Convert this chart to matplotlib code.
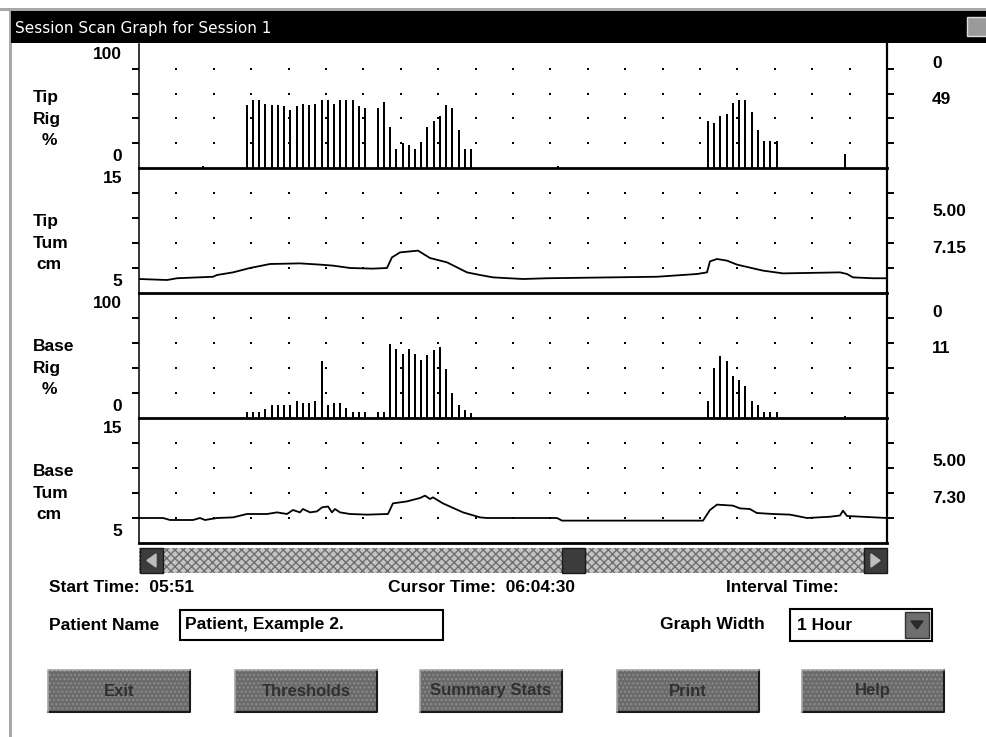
import numpy as np
import matplotlib
matplotlib.use("Agg")
import matplotlib.pyplot as plt
from matplotlib.patches import Rectangle, Polygon
from matplotlib import font_manager

# ---------------- data ----------------
WINDOW_TITLE = "Session Scan Graph for Session 1"
GRAPH_MINUTES = 60
GRID_STEP_MIN = 3

# rigidity scans: every 30 s, epoch index relative to first scan
SCAN_EPOCH_MIN = 0.5
FIRST_SCAN_MIN = 8.64

tip_rig_epochs = [-7] + list(range(0, 20)) + list(range(21, 37)) + [50] + list(range(74, 86)) + [96]
tip_rig_values = ([2]
                  + [51, 55, 55, 52, 51, 51, 49.7, 47, 49.7, 52, 51, 52, 55, 55, 52, 55, 55, 55, 49.7, 48.5]
                  + [48.5, 53.5, 33, 15, 20, 18.5, 15, 21, 33, 38, 41.6, 51, 48.4, 30.7, 15, 15]
                  + [2]
                  + [38, 36, 42, 43.5, 52.4, 55, 55, 45, 30.7, 21.8, 21.8, 21.8]
                  + [11])

base_rig_epochs = list(range(0, 20)) + list(range(21, 37)) + list(range(74, 86)) + [96]
base_rig_values = ([5, 5, 5, 7.3, 10.5, 10.5, 10.5, 10.5, 14, 11.8, 11.8, 14, 45.4, 10.5, 11.8, 11.8, 7.8, 5, 5, 5]
                   + [5, 5, 59.4, 55.4, 51.6, 55.4, 51.6, 46.8, 50.3, 54.3, 56.7, 39.2, 19.9, 10.5, 6.5, 3.8]
                   + [14, 40, 50, 45.4, 33.9, 30.6, 25.3, 13.7, 10.5, 5, 5, 5]
                   + [2])

tip_tum_min = [0.0, 2.25, 3.05, 5.94, 6.26, 7.54, 8.90, 10.51, 12.91, 14.52, 15.56, 16.93, 18.77,
               19.89, 20.29, 20.94, 22.38, 23.34, 24.71, 26.31, 27.35, 28.40, 30.80, 32.73, 41.55,
               44.76, 45.56, 45.80, 46.36, 47.16, 47.97, 50.05, 51.66, 56.23, 56.79, 57.27, 58.87, 60.0]
tip_tum_cm = [6.12, 6.04, 6.18, 6.3, 6.44, 6.65, 7.0, 7.32, 7.37, 7.27, 7.19, 7.0, 6.95,
              7.0, 7.85, 8.25, 8.39, 7.8, 7.45, 6.65, 6.44, 6.25, 6.12, 6.18, 6.3,
              6.52, 6.65, 7.53, 7.72, 7.59, 7.27, 6.79, 6.57, 6.65, 6.52, 6.25, 6.18, 6.18]

base_tum_min = [0.0, 1.93, 2.49, 4.33, 4.89, 5.29, 6.26, 7.54, 8.66, 10.27, 11.07, 11.87, 12.35,
                12.91, 13.15, 13.72, 14.28, 14.68, 15.16, 15.48, 15.72, 16.12, 16.93, 18.29, 19.97,
                20.37, 21.50, 22.54, 22.94, 23.34, 23.58, 24.38, 25.99, 27.35, 27.91, 33.53, 33.93,
                45.24, 45.80, 46.36, 47.64, 48.20, 49.00, 49.56, 50.86, 52.22, 53.58, 55.42, 56.23,
                56.47, 56.79, 60.0]
base_tum_cm = [7.0, 7.0, 6.84, 6.84, 7.0, 6.84, 7.0, 7.05, 7.32, 7.32, 7.45, 7.32, 7.64,
               7.45, 7.72, 7.45, 7.53, 7.85, 7.92, 7.45, 7.72, 7.45, 7.32, 7.27, 7.32,
               8.17, 8.33, 8.6, 8.79, 8.52, 8.65, 8.17, 7.45, 7.05, 7.0, 7.0, 6.79,
               6.79, 7.64, 8.07, 7.99, 7.77, 7.72, 7.4, 7.32, 7.27, 7.0, 7.1, 7.2,
               7.59, 7.16, 7.0]

panel_names = [["Tip", "Rig", "%"], ["Tip", "Tum", "cm"], ["Base", "Rig", "%"], ["Base", "Tum", "cm"]]
panel_ranges = [(0, 100), (5, 15), (0, 100), (5, 15)]
panel_range_labels = [("100", "0"), ("15", "5"), ("100", "0"), ("15", "5")]
panel_ticks = [[20, 40, 60, 80], [7, 9, 11, 13], [20, 40, 60, 80], [7, 9, 11, 13]]
panel_side_values = [("0", "49"), ("5.00", "7.15"), ("0", "11"), ("5.00", "7.30")]

start_time = "05:51"
cursor_time = "06:04:30"
patient_name = "Patient, Example 2."
graph_width = "1 Hour"
button_labels = ["Exit", "Thresholds", "Summary Stats", "Print", "Help"]

# ---------------- drawing ----------------
W, H = 987, 737
fig = plt.figure(figsize=(W / 100, H / 100), dpi=100)
fig.patch.set_facecolor("white")

names = {f.name for f in font_manager.fontManager.ttflist}
FONT = "Liberation Sans" if "Liberation Sans" in names else "DejaVu Sans"

bg = fig.add_axes([0, 0, 1, 1], zorder=0)
bg.set_xlim(0, W)
bg.set_ylim(H, 0)
bg.axis("off")


def box(x0, y0, x1, y1):
    return [x0 / W, 1 - y1 / H, (x1 - x0) / W, (y1 - y0) / H]


def label(x, y, s, size=12.5, ha="left", color="black", weight="bold", family=None):
    bg.text(x, y, s, ha=ha, va="center", fontsize=size, fontweight=weight,
            color=color, family=family or FONT)


# window frame and title bar
bg.add_patch(Rectangle((0, 8), W, 3, color="#a8a8a8", lw=0))
bg.add_patch(Rectangle((9, 8), 3, H - 8, color="#a8a8a8", lw=0))
bg.add_patch(Rectangle((11, 11), W - 11, 32, color="black", lw=0))
bg.text(15, 28, WINDOW_TITLE, ha="left", va="center", fontsize=11, color="white",
        family="DejaVu Sans")
bg.add_patch(Rectangle((967, 17), 20, 19, facecolor="#9a9a9a", edgecolor="#dddddd", lw=1))

PX_L, PX_R = 139, 887
tops = [44, 168, 293, 418]
bottoms = [168, 293, 418, 543]

tip_rig_t = [FIRST_SCAN_MIN + SCAN_EPOCH_MIN * e for e in tip_rig_epochs]
base_rig_t = [FIRST_SCAN_MIN + SCAN_EPOCH_MIN * e for e in base_rig_epochs]

for i in range(4):
    ax = fig.add_axes(box(PX_L, tops[i], PX_R, bottoms[i]), zorder=2)
    ax.set_facecolor("none")
    ax.set_xlim(0, GRAPH_MINUTES)
    ax.set_ylim(*panel_ranges[i])
    ax.set_xticks([])
    ax.set_yticks(panel_ticks[i])
    ax.set_yticklabels([])
    ax.tick_params(axis="y", which="both", left=True, right=True, direction="out",
                   length=5, width=1.4, color="black")
    ax.spines["top"].set_visible(False)
    ax.spines["bottom"].set_linewidth(2.0)
    ax.spines["left"].set_linewidth(1.1)
    ax.spines["right"].set_linewidth(1.6)
    gx, gy = np.meshgrid(np.arange(GRID_STEP_MIN, GRAPH_MINUTES, GRID_STEP_MIN), panel_ticks[i])
    ax.scatter(gx.ravel(), gy.ravel(), s=2.2, marker="s", color="black", lw=0)

    if i == 0:
        ax.vlines(tip_rig_t, 0, tip_rig_values, colors="black", lw=1.44, antialiased=False)
    elif i == 1:
        ax.plot(tip_tum_min, tip_tum_cm, color="black", lw=1.3)
    elif i == 2:
        ax.vlines(base_rig_t, 0, base_rig_values, colors="black", lw=1.44, antialiased=False)
    else:
        ax.plot(base_tum_min, base_tum_cm, color="black", lw=1.3)

    # left range labels
    top_lbl, bot_lbl = panel_range_labels[i]
    label(122, tops[i] + 10, top_lbl, ha="right")
    label(122, bottoms[i] - 12, bot_lbl, ha="right")
    # panel name
    mid = (tops[i] + bottoms[i]) / 2
    n1, n2, n3 = panel_names[i]
    label(33, mid - 9, n1)
    label(33, mid + 13, n2)
    label(49, mid + 34, n3, ha="center")
    # right summary values
    v1, v2 = panel_side_values[i]
    label(932, tops[i] + 18 + (1 if i % 2 == 0 else 25), v1)
    label(932, tops[i] + 55 + (0 if i % 2 == 0 else 25), v2)

# scrollbar
ys0, ys1 = 548, 573
bg.add_patch(Rectangle((PX_L, ys0), PX_R - PX_L, ys1 - ys0, facecolor="#c4c4c4",
                       edgecolor="#6e6e6e", hatch="xxxx", lw=0))
for x0 in (140, 562, 864):
    bg.add_patch(Rectangle((x0, ys0), 23, ys1 - ys0, facecolor="#3c3c3c",
                           edgecolor="#1a1a1a", lw=1))
bg.add_patch(Polygon([[147, 560.5], [156, 554], [156, 567]], color="#bdbdbd"))
bg.add_patch(Polygon([[880, 560.5], [871, 554], [871, 567]], color="#bdbdbd"))

# info line
label(49, 588, "Start Time:  " + start_time, size=12.5)
label(388, 588, "Cursor Time:  " + cursor_time, size=12.5)
label(726, 588, "Interval Time:", size=12.5)

label(49, 626, "Patient Name", size=12.5)
bg.add_patch(Rectangle((180, 610), 263, 30, facecolor="white", edgecolor="black", lw=1.5))
label(185, 625, patient_name, size=12.5)

label(660, 625, "Graph Width", size=12.5)
bg.add_patch(Rectangle((790, 609), 142, 32, facecolor="white", edgecolor="black", lw=1.5))
label(797, 626, graph_width, size=12.5)
bg.add_patch(Rectangle((905, 612), 24, 26, facecolor="#6e6e6e", edgecolor="#333333", lw=1))
bg.add_patch(Polygon([[911, 621], [923, 621], [917, 629]], color="#2a2a2a"))

# buttons
btn_x = [48, 235, 420, 617, 802]
for x0, txt in zip(btn_x, button_labels):
    bg.add_patch(Rectangle((x0, 670), 142, 42, facecolor="#6a6a6a", edgecolor="#8c8c8c",
                           hatch="....", lw=0))
    bg.plot([x0, x0 + 142, x0 + 142], [712, 712, 670], color="#1a1a1a", lw=1.5)
    bg.plot([x0, x0, x0 + 142], [712, 670, 670], color="#a5a5a5", lw=1.2)
    label(x0 + 71, 691, txt, size=12, ha="center", color="#303030")

fig.savefig("out.png", dpi=100, facecolor="white")
